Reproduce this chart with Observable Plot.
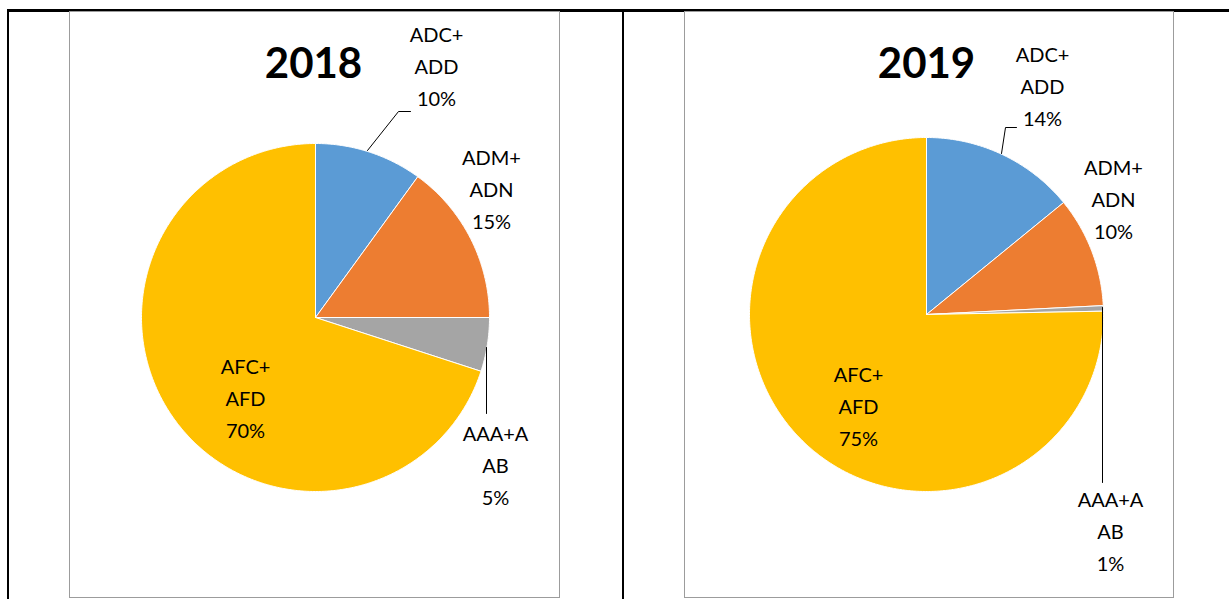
<!DOCTYPE html>
<html>
<head>
<meta charset="utf-8">
<script src="https://cdn.jsdelivr.net/npm/d3@7"></script>
<script src="https://cdn.jsdelivr.net/npm/@observablehq/plot@0.6"></script>
<style>
  html, body { margin: 0; padding: 0; background: #fff; }
  body { width: 1229px; height: 599px; overflow: hidden; position: relative; font-family: Lato, "Open Sans", sans-serif; }
  .bl { position: absolute; background: #000; }
  .panel { position: absolute; border: 1px solid #9c9c9c; box-sizing: border-box; background: #fff; }
  .panel svg { display: block; }
</style>
</head>
<body>
<div class="bl" style="left:7px;top:9px;width:1222px;height:3px"></div>
<div class="bl" style="left:7px;top:9px;width:2px;height:590px"></div>
<div class="bl" style="left:622px;top:9px;width:2px;height:590px"></div>
<div id="p0" class="panel" style="left:69px;top:11px;width:491px;height:587px"></div>
<div id="p1" class="panel" style="left:684px;top:11px;width:490px;height:587px"></div>
<script>
// ---------- data ----------
const years = ["2018", "2019"];
const categories = ["ADC+\nADD", "ADM+\nADN", "AAA+A\nAB", "AFC+\nAFD"];
const values2018 = [10, 15, 5, 70];
const values2019 = [14.1, 10.1, 0.5, 75.3];
const pctLabels2018 = ["10%", "15%", "5%", "70%"];
const pctLabels2019 = ["14%", "10%", "1%", "75%"];
const colors = ["#5b9bd5", "#ed7d31", "#a5a5a5", "#ffc000"];

// ---------- layout (pixel positions inside each panel) ----------
const layout = [
  {
    W: 489, H: 585, cx: 245, cy: 305, r: 174,
    title: [243, 52],
    labels: [[366, 51], [421, 174], [425, 450], [175, 383]],
    leaders: [[[297, 138], [328, 99], [340, 99]], [[416, 335], [416, 401]]]
  },
  {
    W: 488, H: 585, cx: 241, cy: 302, r: 177,
    title: [241, 52],
    labels: [[357, 71], [428, 184], [425, 516], [173, 391]],
    leaders: [[[316, 141], [320, 115], [331, 115]], [[417, 295], [417, 470]]]
  }
];

const series = [
  {year: years[0], values: values2018, pct: pctLabels2018},
  {year: years[1], values: values2019, pct: pctLabels2019}
];

series.forEach((s, idx) => {
  const L = layout[idx];
  const arcs = d3.pie().sort(null)(s.values);
  const pts = [];
  arcs.forEach((a, i) => {
    const cat = categories[i];
    const n = Math.max(2, Math.ceil((a.endAngle - a.startAngle) / (Math.PI / 360)));
    pts.push({cat, x: L.cx, y: L.cy});
    for (let k = 0; k <= n; k++) {
      const t = a.startAngle + (a.endAngle - a.startAngle) * k / n;
      pts.push({cat, x: L.cx + L.r * Math.sin(t), y: L.cy - L.r * Math.cos(t)});
    }
    pts.push({cat, x: L.cx, y: L.cy});
  });

  const labelData = categories.map((c, i) => ({
    text: c + "\n" + s.pct[i], x: L.labels[i][0], y: L.labels[i][1]
  }));
  const leaderData = [];
  L.leaders.forEach((ln, j) => ln.forEach(p => leaderData.push({id: j, x: p[0], y: p[1]})));

  const chart = Plot.plot({
    width: L.W, height: L.H, margin: 0,
    x: {domain: [0, L.W], range: [0, L.W], axis: null},
    y: {domain: [0, L.H], range: [0, L.H], axis: null},
    color: {domain: categories, range: colors},
    style: {background: "transparent", fontFamily: "Lato, sans-serif", overflow: "visible"},
    marks: [
      Plot.line(pts, {x: "x", y: "y", z: "cat", fill: "cat", stroke: "white", strokeWidth: 1, strokeLinejoin: "round"}),
      Plot.line(leaderData, {x: "x", y: "y", z: "id", stroke: "#000", strokeWidth: 1}),
      Plot.text(labelData, {x: "x", y: "y", text: "text", fontSize: 20, lineHeight: 1.6, fill: "#000", textAnchor: "middle", lineAnchor: "middle"}),
      Plot.text([s.year], {x: () => L.title[0], y: () => L.title[1], text: d => d, fontSize: 42, fontWeight: "bold", fill: "#000", textAnchor: "middle", lineAnchor: "middle", letterSpacing: "-1.5px"})
    ]
  });
  document.getElementById("p" + idx).appendChild(chart);
});
</script>
</body>
</html>
